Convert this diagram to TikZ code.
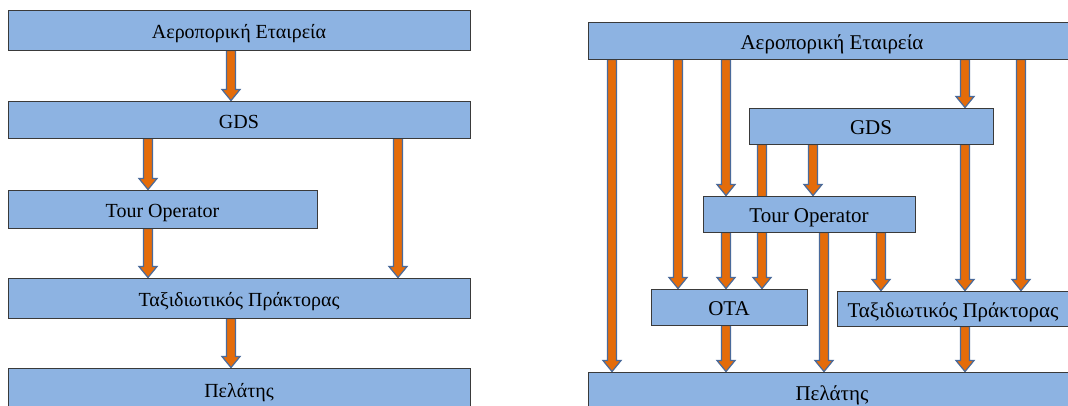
\documentclass[tikz,border=0pt]{standalone}
\usepackage{fontspec}
\setmainfont{Liberation Serif}
\newfontfamily\diagfont{Liberation Serif}
\usetikzlibrary{calc,backgrounds}
\definecolor{boxfill}{HTML}{8DB3E2}
\definecolor{boxline}{HTML}{3A3A3A}
\definecolor{arrowfill}{HTML}{E46C0A}
\definecolor{arrowline}{HTML}{4A6A9A}
\tikzset{
  box/.style={draw=boxline, fill=boxfill, line width=0.9pt, inner sep=0pt,
    text height=19pt, text depth=2pt, font=\diagfont\fontsize{20}{24}\selectfont, text=black},
  boxr/.style={box, font=\diagfont\fontsize{21}{25}\selectfont},
  blockarrow/.style={draw=arrowline, fill=arrowfill, line width=1.2pt, line join=miter,
    to path={let \p1=(\tikztostart), \p2=(\tikztotarget) in
      (\x1-4.5pt,\y1) -- (\x1-4.5pt,\y2+11pt) -- (\x1-9pt,\y2+11pt) -- (\x1,\y2)
      -- (\x1+9pt,\y2+11pt) -- (\x1+4.5pt,\y2+11pt) -- (\x1+4.5pt,\y1) -- cycle}}
}
\begin{document}
\begin{tikzpicture}[x=1pt,y=-1pt]
\useasboundingbox (0,0) rectangle (1068,405);
\clip (0,0) rectangle (1068,405);
% column coordinates
\coordinate (l148) at (148,0);
\coordinate (l231) at (231,0);
\coordinate (l398) at (398,0);
\coordinate (r612) at (612,0);
\coordinate (r678) at (678,0);
\coordinate (r726) at (726,0);
\coordinate (r762) at (762,0);
\coordinate (r813) at (813,0);
\coordinate (r824) at (824,0);
\coordinate (r881) at (881,0);
\coordinate (r965) at (965,0);
\coordinate (r1021) at (1021,0);
% left diagram
\node[box, minimum width=462, minimum height=40] (aeroL) at (239,30) {Αεροπορική Εταιρεία};
\node[box, minimum width=462, minimum height=37] (gdsL) at (239,119.5) {GDS};
\node[box, minimum width=309, minimum height=38] (tourL) at (162.5,209) {Tour Operator};
\node[box, minimum width=462, minimum height=40] (taxL) at (239,298) {Ταξιδιωτικός Πράκτορας};
\node[box, minimum width=462, minimum height=42] (pelL) at (239,389) {Πελάτης};
% right diagram
\node[boxr, minimum width=488, minimum height=37] (aeroR) at (832,40.5) {Αεροπορική Εταιρεία};
\node[boxr, minimum width=244, minimum height=36] (gdsR) at (871,126) {GDS};
\node[boxr, minimum width=212, minimum height=36] (tourR) at (809,214) {Tour Operator};
\node[boxr, minimum width=156, minimum height=36] (otaR) at (729,307) {OTA};
\node[boxr, minimum width=232, minimum height=35] (taxR) at (953,308.5) {Ταξιδιωτικός Πράκτορας};
\node[boxr, minimum width=488, minimum height=40] (pelR) at (832,392) {Πελάτης};
\begin{pgfonlayer}{background}
% left arrows
\draw[blockarrow] (l231 |- aeroL.south) to (l231 |- gdsL.north);
\draw[blockarrow] (l148 |- gdsL.south) to (l148 |- tourL.north);
\draw[blockarrow] (l398 |- gdsL.south) to (l398 |- taxL.north);
\draw[blockarrow] (l148 |- tourL.south) to (l148 |- taxL.north);
\draw[blockarrow] (l231 |- taxL.south) to (l231 |- pelL.north);
% right arrows
\draw[blockarrow] (r612 |- aeroR.south) to (r612 |- pelR.north);
\draw[blockarrow] (r678 |- aeroR.south) to (r678 |- otaR.north);
\draw[blockarrow] (r726 |- aeroR.south) to (r726 |- tourR.north);
\draw[blockarrow] (r726 |- tourR.south) to (r726 |- otaR.north);
\draw[blockarrow] (r726 |- otaR.south) to (r726 |- pelR.north);
\draw[blockarrow] (r762 |- gdsR.south) to (r762 |- otaR.north);
\draw[blockarrow] (r813 |- gdsR.south) to (r813 |- tourR.north);
\draw[blockarrow] (r824 |- tourR.south) to (r824 |- pelR.north);
\draw[blockarrow] (r881 |- tourR.south) to (r881 |- taxR.north);
\draw[blockarrow] (r965 |- aeroR.south) to (r965 |- gdsR.north);
\draw[blockarrow] (r965 |- gdsR.south) to (r965 |- taxR.north);
\draw[blockarrow] (r965 |- taxR.south) to (r965 |- pelR.north);
\draw[blockarrow] (r1021 |- aeroR.south) to (r1021 |- taxR.north);
\end{pgfonlayer}
\end{tikzpicture}
\end{document}
